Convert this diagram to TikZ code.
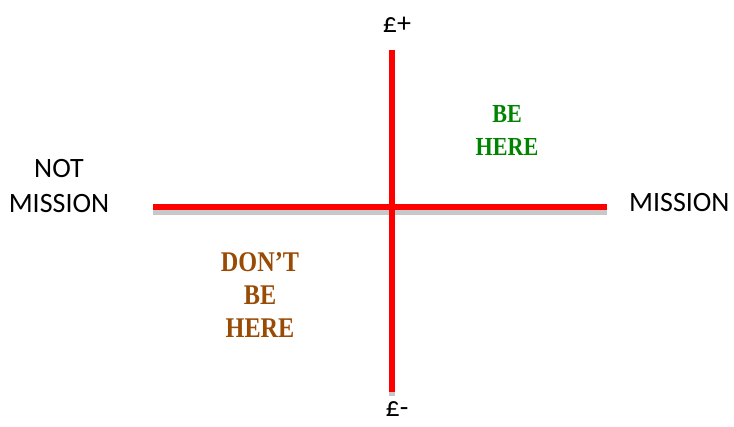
\documentclass[tikz,border=0pt]{standalone}
\usepackage{fontspec}
\setmainfont{Carlito}
\newfontfamily\quadserif[FakeStretch=0.85]{Liberation Serif}
\usepackage{xcolor}
\definecolor{goodgreen}{RGB}{0,132,0}
\definecolor{badbrown}{RGB}{153,74,4}
\definecolor{shadowgray}{RGB}{200,200,200}

\begin{document}
\begin{tikzpicture}[x=1pt, y=-1pt,
    axisline/.style={red, line width=6pt},
    axisshadow/.style={shadowgray, line width=6pt},
    endlabel/.style={font=\fontsize{28}{35}\selectfont, align=center, inner sep=0pt},
    quadlabel/.style={font=\quadserif\bfseries, align=center, inner sep=0pt}]
  \useasboundingbox (0,0) rectangle (734,427);
  % axis ends
  \coordinate (top) at (392,50);
  \coordinate (bot) at (392,392);
  \coordinate (lft) at (153,207);
  \coordinate (rgt) at (607,207);
  % shadows, then the red axes
  \draw[axisshadow] ([yshift=-5pt]lft) -- ([yshift=-5pt]rgt);
  \draw[axisshadow] ([yshift=-4pt]top) -- ([yshift=-4pt]bot);
  \draw[axisline] (lft) -- (rgt);
  \draw[axisline] (top) -- (bot);
  % axis labels
  \node[endlabel, anchor=base] (plus) at (397,33) {£+};
  \node[endlabel, anchor=base] (minus) at (397,417) {£-};
  \node[endlabel, anchor=base west] (mission) at (629,212) {MISSION};
  \node[endlabel] (notmission) at (59,186) {NOT\\MISSION};
  % quadrant labels
  \node[quadlabel, text=goodgreen, font=\quadserif\bfseries\fontsize{26}{33}\selectfont] (behere) at (507,130) {BE\\HERE};
  \node[quadlabel, text=badbrown, font=\quadserif\bfseries\fontsize{28.5}{33}\selectfont] (dontbehere) at (260,295) {DON’T\\BE\\HERE};
\end{tikzpicture}
\end{document}
